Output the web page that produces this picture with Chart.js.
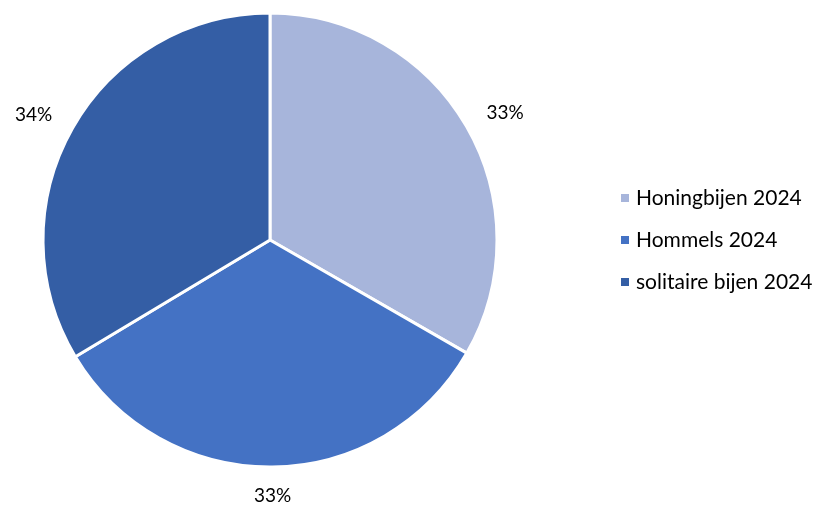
<!DOCTYPE html>
<html>
<head>
<meta charset="utf-8">
<script src="https://cdn.jsdelivr.net/npm/chart.js@4"></script>
<style>
html,body{margin:0;padding:0;background:#fff;}
#wrap{width:828px;height:508px;position:relative;}
</style>
</head>
<body>
<div id="wrap"><canvas id="c" width="828" height="508"></canvas></div>
<script>
const categories = ["Honingbijen 2024", "Hommels 2024", "solitaire bijen 2024"];
const values = [33.3, 33.1, 33.6];
const percentLabels = ["33%", "33%", "34%"];
const colors = ["#A7B5DB", "#4472C4", "#345EA5"];

const FONT = "Lato, 'Open Sans', sans-serif";

const labelPlugin = {
  id: 'outerLabels',
  afterDatasetsDraw(chart) {
    const ctx = chart.ctx;
    const meta = chart.getDatasetMeta(0);
    ctx.save();
    ctx.font = "19px " + FONT;
    ctx.fillStyle = "#000";
    ctx.textAlign = "center";
    ctx.textBaseline = "middle";
    meta.data.forEach((arc, i) => {
      const p = arc.getProps(['x','y','startAngle','endAngle','outerRadius'], true);
      const mid = (p.startAngle + p.endAngle) / 2;
      const dx = Math.cos(mid), dy = Math.sin(mid);
      const txt = percentLabels[i];
      const w = ctx.measureText(txt).width;
      const x = p.x + dx * (p.outerRadius + 26) + dx * w / 2;
      const y = p.y + dy * (p.outerRadius + 20) + dy * 8;
      ctx.fillText(txt, x, y + 1);
    });
    ctx.restore();
  }
};

const legendPlugin = {
  id: 'customLegend',
  afterDraw(chart) {
    const ctx = chart.ctx;
    ctx.save();
    ctx.font = "21px " + FONT;
    ctx.textBaseline = "middle";
    ctx.textAlign = "left";
    const x0 = 621, y0 = 198, gap = 42;
    chart.data.labels.forEach((lab, i) => {
      const y = y0 + i * gap;
      ctx.fillStyle = chart.data.datasets[0].backgroundColor[i];
      ctx.fillRect(x0, y - 4, 8, 8);
      ctx.fillStyle = "#000";
      ctx.fillText(lab, x0 + 15, y);
    });
    ctx.restore();
  }
};

new Chart(document.getElementById('c'), {
  type: 'pie',
  data: {
    labels: categories,
    datasets: [{
      data: values,
      backgroundColor: colors,
      borderColor: "#ffffff",
      borderWidth: 3
    }]
  },
  options: {
    responsive: false,
    animation: false,
    radius: 227,
    layout: { padding: { left: 0, right: 288, top: 14, bottom: 42 } },
    plugins: {
      legend: { display: false },
      tooltip: { enabled: false }
    }
  },
  plugins: [labelPlugin, legendPlugin]
});
</script>
</body>
</html>
